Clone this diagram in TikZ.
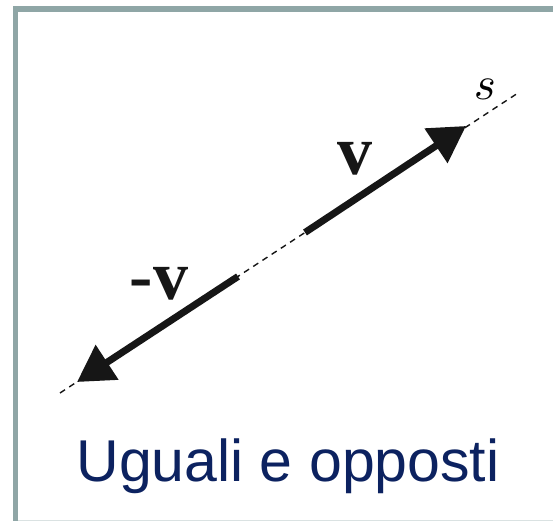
\documentclass[tikz,border=0pt]{standalone}
\usepackage{fontspec}
\setmainfont{Liberation Serif}
\newfontfamily\capfont{Liberation Sans}
\usetikzlibrary{arrows.meta}
\definecolor{framegray}{RGB}{143,166,166}
\definecolor{framelight}{RGB}{218,226,226}
\definecolor{capblue}{RGB}{12,34,96}
\definecolor{vecblack}{RGB}{22,22,22}
\tikzset{
  vec/.style={line width=7pt, draw=vecblack, -{Triangle[length=36pt,width=40pt]}},
  axis/.style={line width=1.4pt, draw=vecblack, dash pattern=on 6pt off 5pt},
  veclabel/.style={inner sep=0pt, text=vecblack, font=\fontsize{70}{70}\selectfont\bfseries},
}
\begin{document}
\begin{tikzpicture}[x=1pt,y=1pt]
\useasboundingbox (0,0) rectangle (553,521);
\fill[white] (0,0) rectangle (553,521);
% frame
\fill[framelight] (15,0) rectangle (553,1.5);
\fill[framegray] (12.5,0) rectangle (18,515);
\fill[framegray] (12.5,509) rectangle (553,515);
% line s
\coordinate (A) at (60,128);
\coordinate (B) at (518,428);
\draw[axis] (A) -- (B);
% vectors
\coordinate (mvtail) at (238,244.5);
\coordinate (mvtip) at (77,139);
\coordinate (vtail) at (305,288.5);
\coordinate (vtip) at (466,395);
\draw[vec] (vtail) -- (vtip);
\draw[vec] (mvtail) -- (mvtip);
% labels
\node[veclabel, anchor=base] (vlab) at (355,346) {v};
\node[veclabel, anchor=base] (mvlab) at (159,221) {-v};
\node[inner sep=0pt, anchor=base] (slab) at (485,421) {\scalebox{4.7}{$s$}};
\node[inner sep=0pt, anchor=base, text=capblue, font=\capfont\fontsize{59}{59}\selectfont] (cap) at (288,39) {Uguali e opposti};
\end{tikzpicture}
\end{document}
